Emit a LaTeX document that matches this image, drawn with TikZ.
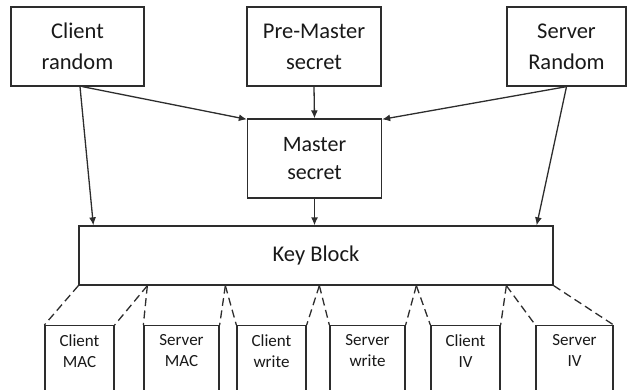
\documentclass[tikz,border=0pt]{standalone}
\usepackage{fontspec}
\setmainfont{Carlito}
\usepackage{tikz}
\usetikzlibrary{arrows.meta}
\definecolor{line_gray}{RGB}{45,45,45}
\definecolor{text_gray}{RGB}{25,25,25}

\begin{document}
\begin{tikzpicture}[line width=1.3pt,>={Latex[length=8pt,width=7pt]},x=1pt,y=-1pt]
    \tikzstyle{box}=[draw=line_gray, rectangle, fill=white, text=text_gray, align=center, inner sep=0pt]
    \tikzstyle{top}=[style=box, minimum height=79pt, font=\fontsize{22.5}{31}\selectfont]
    \tikzstyle{key}=[style=box, anchor=north, inner xsep=0pt, inner ysep=9pt, text depth=60pt, font=\fontsize{17}{21}\selectfont]
    \tikzstyle{cut}=[-, draw=line_gray, dash pattern=on 8pt off 4.5pt]

    \useasboundingbox (0,0) rectangle (628,390);
    \clip (0,0) rectangle (628,390);

    \node[top, minimum width=133pt] (cr) at (77.5,46.5)  {Client\\random};
    \node[top, minimum width=134pt] (pm) at (314,46.5)   {Pre-Master\\secret};
    \node[top, minimum width=119pt] (sr) at (566.5,46.5) {Server\\Random};
    \node[top, minimum width=134pt, minimum height=79pt,
          font=\fontsize{22}{28}\selectfont] (ms) at (314.5,158.5) {Master\\secret};
    \node[box, minimum width=474pt, minimum height=59pt,
          font=\fontsize{22.5}{26}\selectfont] (kb) at (316,255.5) {Key Block};

    \node[key, minimum width=69pt] (cmac) at (79.5,325)  {Client\\MAC};
    \node[key, minimum width=75pt] (smac) at (181.5,325) {Server\\MAC};
    \node[key, minimum width=69pt] (cw)   at (271.5,325) {Client\\write};
    \node[key, minimum width=75pt] (sw)   at (367.5,325) {Server\\write};
    \node[key, minimum width=69pt] (civ)  at (465.5,325) {Client\\IV};
    \node[key, minimum width=77pt] (siv)  at (574.5,325) {Server\\IV};

    % split points on the key block
    \coordinate (k1) at ([xshift=69pt]kb.south west);
    \coordinate (k2) at ([xshift=147pt]kb.south west);
    \coordinate (k3) at ([xshift=241pt]kb.south west);
    \coordinate (k4) at ([xshift=338pt]kb.south west);
    \coordinate (k5) at ([xshift=428pt]kb.south west);

    \draw[->, draw=line_gray] ([xshift=5pt]cr.south) -- ([yshift=-1pt]ms.north west);
    \draw[->, draw=line_gray] ([xshift=2.5pt]cr.south) -- ([xshift=15pt]kb.north west);
    \draw[->, draw=line_gray] (pm.south) -- (ms.north);
    \draw[->, draw=line_gray] (sr.south) -- ([yshift=-1pt]ms.north east);
    \draw[->, draw=line_gray] (sr.south) -- ([xshift=-17pt]kb.north east);
    \draw[->, draw=line_gray] (ms.south) -- (ms.south |- kb.north);

    \path
     (kb.south west) edge[cut] (cmac.north west)
     (k1) edge[cut] (cmac.north east)
     (k1) edge[cut] (smac.north west)
     (k2) edge[cut] (smac.north east)
     (k2) edge[cut] (cw.north west)
     (k3) edge[cut] (cw.north east)
     (k3) edge[cut] (sw.north west)
     (k4) edge[cut] (sw.north east)
     (k4) edge[cut] (civ.north west)
     (k5) edge[cut] (civ.north east)
     (k5) edge[cut] (siv.north west)
     (kb.south east) edge[cut] (siv.north east)
     ;
\end{tikzpicture}
\end{document}
